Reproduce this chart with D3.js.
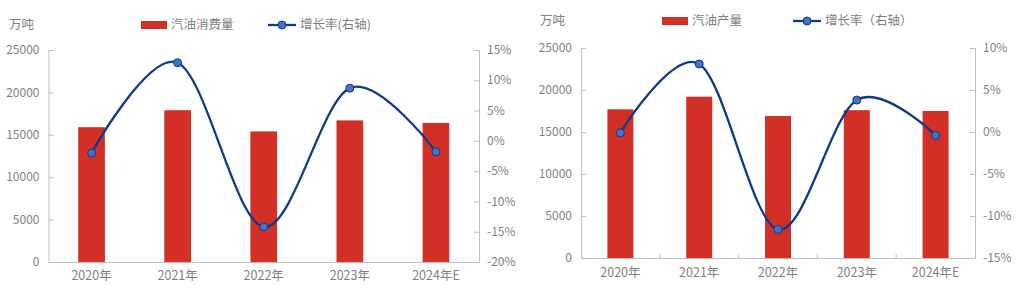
<!DOCTYPE html>
<html><head><meta charset="utf-8">
<script src="https://cdn.jsdelivr.net/npm/d3@7"></script>
<style>
body{margin:0;background:#fff;}
svg text{font-family:"Noto Sans CJK SC","Microsoft YaHei",sans-serif;fill:#7f7f7f;}
</style></head>
<body><svg id="c" width="1031" height="295"></svg>
<script>
const categories = ["2020年","2021年","2022年","2023年","2024年E"];
const consumption = [15900, 17900, 15400, 16700, 16400];
const consumptionGrowth = [-2.0, 12.9, -14.2, 8.7, -1.8];
const production = [17700, 19200, 16900, 17600, 17500];
const productionGrowth = [-0.1, 8.1, -11.6, 3.8, -0.4];
const leftTicks = [0, 5000, 10000, 15000, 20000, 25000];
const rightTicks1 = [-20, -15, -10, -5, 0, 5, 10, 15];
const rightTicks2 = [-15, -10, -5, 0, 5, 10];

const svg = d3.select("#c");
const barColor = "#d22f26", lineColor = "#0d3a8c", markerFill = "#4472c4", axisColor = "#bfbfbf";

function drawChart(cfg){
  const g = svg.append("g");
  const x = d3.scaleBand().domain(categories).range([cfg.x0, cfg.x1]).paddingInner(cfg.pad).paddingOuter(cfg.pad/2);
  const xc = d3.scaleBand().domain(categories).range([cfg.x0, cfg.x1]);
  const y = d3.scaleLinear().domain([0, 25000]).range([cfg.yb, cfg.yt]);
  const y2 = d3.scaleLinear().domain([cfg.rmin, cfg.rmax]).range([cfg.yb, cfg.yt]);

  // left axis
  const la = g.append("g").attr("transform", `translate(${cfg.x0},0)`)
    .call(d3.axisRight(y).tickValues(leftTicks).tickSize(5).tickFormat(""));
  la.select(".domain").attr("stroke", axisColor);
  la.selectAll(".tick line").attr("stroke", axisColor);
  g.selectAll(".ltl").data(leftTicks).join("text")
    .attr("x", cfg.x0 - 9).attr("y", d => y(d)).attr("dy", "0.35em")
    .attr("text-anchor", "end").attr("font-size", 12).text(d => d);

  // right axis
  const ra = g.append("g").attr("transform", `translate(${cfg.x1},0)`)
    .call(d3.axisLeft(y2).tickValues(cfg.rticks).tickSize(5).tickFormat(""));
  ra.select(".domain").attr("stroke", axisColor);
  ra.selectAll(".tick line").attr("stroke", axisColor);
  g.selectAll(".rtl").data(cfg.rticks).join("text")
    .attr("x", cfg.x1 + 8).attr("y", d => y2(d)).attr("dy", "0.35em")
    .attr("text-anchor", "start").attr("font-size", 12).text(d => d + "%");

  // bars
  g.selectAll(".bar").data(cfg.bars).join("rect")
    .attr("x", (d,i) => x(categories[i])).attr("width", x.bandwidth())
    .attr("y", d => y(d)).attr("height", d => cfg.yb - y(d)).attr("fill", barColor);

  // x axis
  const xa = g.append("g").attr("transform", `translate(0,${cfg.yb})`)
    .call(d3.axisTop(xc).tickSize(0).tickFormat(""));
  xa.select(".domain").attr("stroke", axisColor);
  if (cfg.xticks) {
    g.selectAll(".xt").data(categories.slice(1)).join("line")
      .attr("x1", d => xc(d)).attr("x2", d => xc(d))
      .attr("y1", cfg.yb - 4).attr("y2", cfg.yb).attr("stroke", axisColor);
  }
  g.selectAll(".xl").data(categories).join("text")
    .attr("x", d => xc(d) + xc.bandwidth()/2).attr("y", cfg.xly).attr("dy", "0.35em")
    .attr("text-anchor", "middle").attr("font-size", 12.5).text(d => d);

  // line
  const pts = cfg.growth.map((v,i) => [xc(categories[i]) + xc.bandwidth()/2, y2(v)]);
  g.append("path").attr("d", d3.line().curve(d3.curveCardinal.tension(0))(pts))
    .attr("fill", "none").attr("stroke", lineColor).attr("stroke-width", 2.3);
  g.selectAll(".pt").data(pts).join("circle")
    .attr("cx", d => d[0]).attr("cy", d => d[1]).attr("r", 4)
    .attr("fill", markerFill).attr("stroke", lineColor).attr("stroke-width", 1);

  // unit + legend
  g.append("text").attr("x", cfg.unitX).attr("y", cfg.legY).attr("dy", "0.35em").attr("font-size", 12.5).text("万吨");
  g.append("rect").attr("x", cfg.legRectX).attr("y", cfg.legY - 4).attr("width", 26).attr("height", 8).attr("fill", barColor);
  g.append("text").attr("x", cfg.legRectX + 30).attr("y", cfg.legY).attr("dy", "0.35em").attr("font-size", 12.5).text(cfg.barName);
  g.append("line").attr("x1", cfg.legLineX).attr("x2", cfg.legLineX + 28).attr("y1", cfg.legY).attr("y2", cfg.legY)
    .attr("stroke", lineColor).attr("stroke-width", 2.3);
  g.append("circle").attr("cx", cfg.legLineX + 14).attr("cy", cfg.legY).attr("r", 4)
    .attr("fill", markerFill).attr("stroke", lineColor);
  g.append("text").attr("x", cfg.legLineX + 32).attr("y", cfg.legY).attr("dy", "0.35em").attr("font-size", 12.5).text(cfg.lineName);
}

drawChart({x0:48.5, x1:479, yt:50, yb:262, pad:0.69, rmin:-20, rmax:15, rticks:rightTicks1,
  bars:consumption, growth:consumptionGrowth, xticks:false, xly:276,
  unitX:9, legY:25, legRectX:141, legLineX:268, barName:"汽油消费量", lineName:"增长率(右轴)"});
drawChart({x0:581, x1:975, yt:48, yb:258, pad:0.67, rmin:-15, rmax:10, rticks:rightTicks2,
  bars:production, growth:productionGrowth, xticks:true, xly:273,
  unitX:540, legY:21, legRectX:662, legLineX:793, barName:"汽油产量", lineName:"增长率（右轴）"});
</script></body></html>
